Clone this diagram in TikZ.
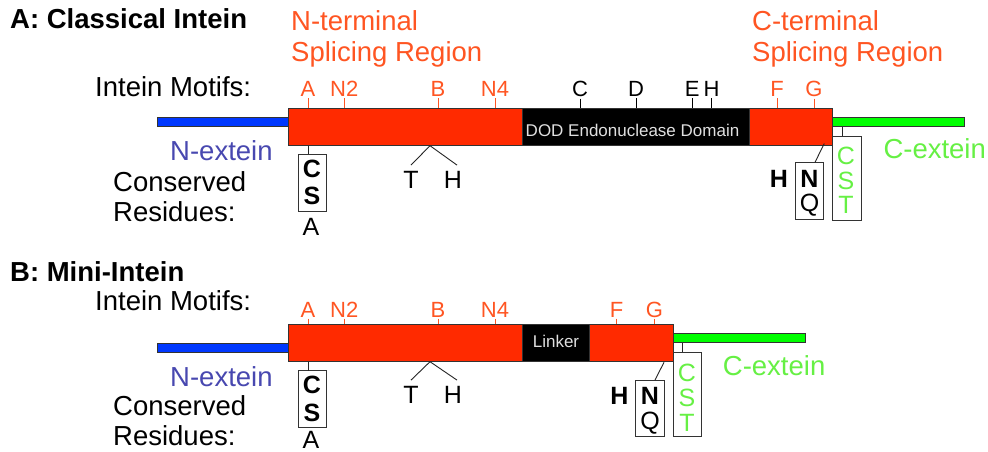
\documentclass[tikz,border=0pt]{standalone}
\usepackage{fontspec}
\setmainfont{Liberation Sans}
\usetikzlibrary{calc}
\definecolor{barred}{HTML}{FF2A00}
\definecolor{motifor}{HTML}{FF5522}
\definecolor{nblue}{HTML}{0038FF}
\definecolor{ntext}{HTML}{4848B0}
\definecolor{cgreen}{HTML}{00FF00}
\definecolor{ctext}{HTML}{66F044}
\definecolor{edge}{HTML}{333333}
\definecolor{domtext}{HTML}{E0E0E0}
\tikzset{
  bigtxt/.style={font=\fontsize{27.5}{32}\selectfont, inner sep=0pt, anchor=base west},
  titletxt/.style={font=\fontsize{27.5}{32}\selectfont\bfseries, inner sep=0pt, anchor=base west},
  motif/.style={font=\fontsize{22}{26}\selectfont, inner sep=1.5pt, anchor=base},
  omotif/.style={motif, text=motifor},
  kmotif/.style={motif, text=black},
  otick/.style={draw=motifor, line width=0.9pt},
  ktick/.style={draw=black, line width=0.9pt},
  kline/.style={draw=black!85, line width=0.9pt},
  seg/.style={draw=edge, line width=1pt, inner sep=0pt, outer sep=0pt, anchor=north west},
  resbox/.style={draw=edge, line width=1pt, inner sep=0pt, outer sep=0pt, anchor=north west},
  res/.style={font=\fontsize{25}{30}\selectfont, inner sep=0pt, anchor=base},
  resb/.style={font=\fontsize{25}{30}\selectfont\bfseries, inner sep=0pt, anchor=base},
  domtxt/.style={font=\fontsize{17}{20}\selectfont, text=domtext, inner sep=0pt, anchor=base}
}
\begin{document}
\begin{tikzpicture}[x=1pt,y=-1pt]
\useasboundingbox (0,0) rectangle (988,452);
\fill[white] (0,0) rectangle (988,452);

% ================= Panel A =================
\node[titletxt] (titleA) at (10,28.3) {A: Classical Intein};
\node[bigtxt, text=motifor] (ntermA1) at (291,31) {N-terminal};
\node[bigtxt, text=motifor] (ntermA2) at (291,61.5) {Splicing Region};
\node[bigtxt, text=motifor] (ctermA1) at (752,30.5) {C-terminal};
\node[bigtxt, text=motifor] (ctermA2) at (752,61.5) {Splicing Region};
\node[bigtxt] (motifsA) at (95,96.7) {Intein Motifs:};

\node[seg, fill=nblue, minimum width=131.3pt, minimum height=9.4pt] (nbarA) at (157,117.3) {};
\node[seg, fill=cgreen, minimum width=131.3pt, minimum height=9.4pt] (cbarA) at (832.7,117.3) {};
\node[seg, fill=barred, minimum width=544.4pt, minimum height=37.4pt] (barA) at (288.3,108.3) {};
\node[seg, fill=black, minimum width=226.3pt, minimum height=37.4pt] (dodA) at (522.7,108.3) {};
\node[domtxt] (dodtxtA) at (632.5,136.5) {DOD Endonuclease Domain};

% motifs A
\node[omotif] (mAa) at (308,96.7) {A};
\node[omotif] (mAn2) at (344.3,96.7) {N2};
\node[omotif] (mAb) at (438,96.7) {B};
\node[omotif] (mAn4) at (495,96.7) {N4};
\node[kmotif] (mAc) at (580,96.7) {C};
\node[kmotif] (mAd) at (636,96.7) {D};
\node[kmotif] (mAe) at (692.3,96.7) {E};
\node[kmotif] (mAh) at (711.5,96.7) {H};
\node[omotif] (mAf) at (777,96.7) {F};
\node[omotif] (mAg) at (814,96.7) {G};
\foreach \m in {mAa,mAn2,mAb,mAn4,mAf,mAg}
  \draw[otick] (\m.south) -- (\m.south |- barA.north);
\foreach \m in {mAc,mAd,mAe,mAh}
  \draw[ktick] (\m.south) -- (\m.south |- barA.north);

\node[bigtxt, text=ntext] (nextA) at (170,160.7) {N-extein};
\node[bigtxt, text=ctext] (cextA) at (883.3,158.5) {C-extein};
\node[bigtxt] (consA) at (113,191.5) {Conserved};
\node[bigtxt] (resiA) at (113,221.7) {Residues:};

% residues A
\node[resbox, minimum width=28pt, minimum height=56.7pt] (csA) at (298,154.3) {};
\draw[kline] (mAa |- barA.south) -- (mAa |- csA.north);
\node[resb] (csAc) at (312,177) {C};
\node[resb] (csAs) at (312,204.5) {S};
\node[res] (csAa) at (311,235) {A};

\coordinate (thA) at (430,145.7);
\node[res] (tA) at (411,188) {T};
\node[res] (hA) at (453,188) {H};
\draw[kline] ($(tA.north)+(0,-5.5)$) -- (thA) -- ($(hA.north)+(4,-5.5)$);

\node[resbox, minimum width=27.6pt, minimum height=56.7pt] (nqA) at (795.7,162.3) {};
\coordinate (cjA) at (824.3,143.5);
\draw[kline] (cjA) -- ($(nqA.north)+(5.5,0)$);
\node[resb] (nqAn) at (809.5,187) {N};
\node[res] (nqAq) at (809.5,211) {Q};
\node[resb] (hbA) at (779,187) {H};

\node[resbox, minimum width=28.3pt, minimum height=84.7pt] (cstA) at (832.7,136) {};
\coordinate (ctA) at (842.3,126.7);
\draw[kline] (ctA) -- (ctA |- cstA.north);
\node[res, text=ctext] (cstAc) at (846,164) {C};
\node[res, text=ctext] (cstAs) at (846,189) {S};
\node[res, text=ctext] (cstAt) at (846,213) {T};

% ================= Panel B =================
\node[titletxt] (titleB) at (10,281.7) {B: Mini-Intein};
\node[bigtxt] (motifsB) at (95,310) {Intein Motifs:};

\node[seg, fill=nblue, minimum width=131.3pt, minimum height=9pt] (nbarB) at (157,343.3) {};
\node[seg, fill=cgreen, minimum width=131.7pt, minimum height=9.4pt] (cbarB) at (673.3,333.3) {};
\node[seg, fill=barred, minimum width=385pt, minimum height=37.4pt] (barB) at (288.3,324.3) {};
\node[seg, fill=black, minimum width=66.3pt, minimum height=37.4pt] (linkB) at (522.7,324.3) {};
\node[domtxt] (linktxtB) at (556,347.5) {Linker};

\node[omotif] (mBa) at (308,317) {A};
\node[omotif] (mBn2) at (344.3,317) {N2};
\node[omotif] (mBb) at (438,317) {B};
\node[omotif] (mBn4) at (495,317) {N4};
\node[omotif] (mBf) at (616.7,317) {F};
\node[omotif] (mBg) at (654.3,317) {G};
\foreach \m in {mBa,mBn2,mBb,mBn4,mBf,mBg}
  \draw[otick] (\m.south) -- (\m.south |- barB.north);

\node[bigtxt, text=ntext] (nextB) at (170,386.7) {N-extein};
\node[bigtxt, text=ctext] (cextB) at (722.7,375.7) {C-extein};
\node[bigtxt] (consB) at (113,415) {Conserved};
\node[bigtxt] (resiB) at (113,445) {Residues:};

\node[resbox, minimum width=28pt, minimum height=56.6pt] (csB) at (298,370.7) {};
\draw[kline] (mBa |- barB.south) -- (mBa |- csB.north);
\node[resb] (csBc) at (312,393.3) {C};
\node[resb] (csBs) at (312,421) {S};
\node[res] (csBa) at (311,448.5) {A};

\coordinate (thB) at (430,361.7);
\node[res] (tB) at (411,403) {T};
\node[res] (hB) at (453,403) {H};
\draw[kline] ($(tB.north)+(0,-5.5)$) -- (thB) -- ($(hB.north)+(4,-5.5)$);

\node[resbox, minimum width=28.3pt, minimum height=56.7pt] (nqB) at (635.7,380) {};
\coordinate (cjB) at (664,362.3);
\draw[kline] (cjB) -- ($(nqB.north)+(5.2,0)$);
\node[resb] (nqBn) at (650,404) {N};
\node[res] (nqBq) at (650,429) {Q};
\node[resb] (hbB) at (619.3,404) {H};

\node[resbox, minimum width=27.7pt, minimum height=84.4pt] (cstB) at (673.3,352.3) {};
\coordinate (ctB) at (682.7,342.7);
\draw[kline] (ctB) -- (ctB |- cstB.north);
\node[res, text=ctext] (cstBc) at (687,381.7) {C};
\node[res, text=ctext] (cstBs) at (687,406.7) {S};
\node[res, text=ctext] (cstBt) at (687,431) {T};
\end{tikzpicture}
\end{document}
